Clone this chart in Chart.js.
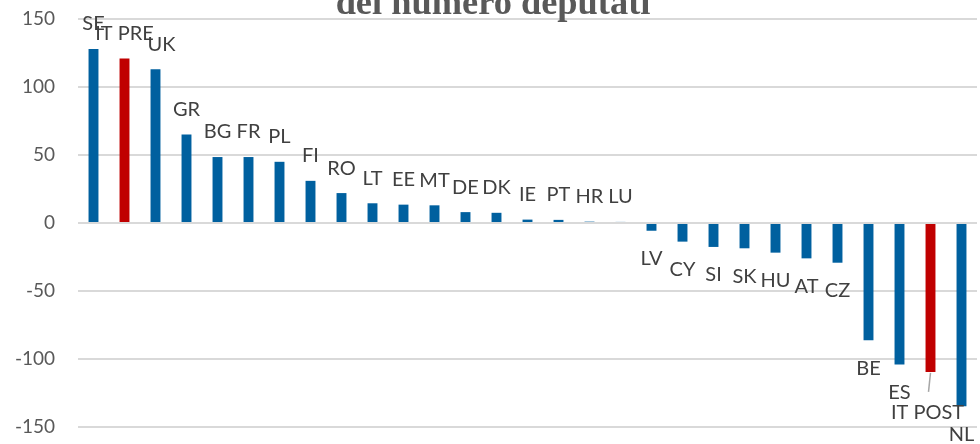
<!DOCTYPE html>
<html><head><meta charset="utf-8">
<script src="https://cdn.jsdelivr.net/npm/chart.js@4/dist/chart.umd.min.js"></script>
<style>html,body{margin:0;padding:0;background:#fff}#wrap{width:980px;height:444px;position:relative}</style>
</head><body><div id="wrap"><canvas id="c"></canvas></div>
<script>
const categories = ["SE","IT PRE","UK","GR","BG","FR","PL","FI","RO","LT","EE","MT","DE","DK","IE","PT","HR","LU","LV","CY","SI","SK","HU","AT","CZ","BE","ES","IT POST","NL"];
const values = [128,121,113,65,48.5,48.5,45,31,22,14.5,13.5,13,8,7.5,2.5,2.3,1,0.8,-5.7,-13.7,-17.6,-18.6,-21.8,-26,-29.2,-86.3,-104,-109.5,-134.7];
const highlighted = ["IT PRE","IT POST"];
const yTicks = [-150,-100,-50,0,50,100,150];
const titleText = "del numero deputati";

const BLUE = "#00609F", RED = "#C00000";
const barColors = categories.map(c => highlighted.includes(c) ? RED : BLUE);

const labelPlugin = {
  id: 'barLabels',
  afterDatasetsDraw(chart) {
    const ctx = chart.ctx;
    const meta = chart.getDatasetMeta(0);
    ctx.save();
    ctx.font = '20px Lato';
    ctx.fillStyle = '#404040';
    ctx.textAlign = 'center';
    ctx.textBaseline = 'middle';
    meta.data.forEach((bar, i) => {
      const v = values[i];
      const name = categories[i];
      let x = bar.x, y;
      if (v >= 0) { y = bar.y - 25; } else { y = bar.y + 28; }
      if (name === 'UK') x += 6;
      if (name === 'IT POST') {
        y = bar.y + 41;
        ctx.strokeStyle = '#A6A6A6';
        ctx.lineWidth = 1.5;
        ctx.beginPath();
        ctx.moveTo(bar.x, bar.y + 1);
        ctx.lineTo(bar.x - 2, bar.y + 20);
        ctx.stroke();
        x -= 3;
      }
      ctx.fillText(name, x, y);
    });
    // title (only its lower line is visible in the frame)
    let size = 32;
    ctx.font = 'bold ' + size + 'px "Liberation Serif"';
    const w = ctx.measureText(titleText).width;
    size = size * 315 / w;
    ctx.font = 'bold ' + size.toFixed(1) + 'px "Liberation Serif"';
    ctx.fillStyle = '#595959';
    ctx.textBaseline = 'alphabetic';
    ctx.fillText(titleText, 493, 14);
    ctx.restore();
  }
};

new Chart(document.getElementById('c'), {
  type: 'bar',
  data: {
    labels: categories,
    datasets: [{
      data: values,
      backgroundColor: barColors,
      borderWidth: 0,
      categoryPercentage: 1,
      barPercentage: 0.32
    }]
  },
  options: {
    responsive: true,
    maintainAspectRatio: false,
    animation: false,
    layout: { padding: { top: 19, bottom: 17, right: 3, left: 0 } },
    plugins: { legend: { display: false }, tooltip: { enabled: false }, title: { display: false } },
    scales: {
      x: {
        display: false,
        offset: true,
        grid: { display: false }
      },
      y: {
        min: -150, max: 150,
        afterFit(s) { s.width = 78; },
        afterBuildTicks(s) { s.ticks = yTicks.map(v => ({ value: v })); },
        grid: { color: '#D9D9D9', lineWidth: 2, drawTicks: true, tickLength: 23, tickColor: 'rgba(0,0,0,0)' },
        border: { display: false },
        ticks: { font: { family: 'Lato', size: 19 }, color: '#595959', padding: 0 }
      }
    }
  },
  plugins: [labelPlugin]
});
</script></body></html>
